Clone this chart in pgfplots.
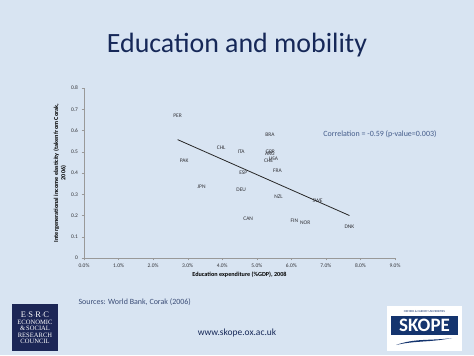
\documentclass[border=0pt]{standalone}
\usepackage{fontspec}
\setmainfont{Carlito}
\newfontfamily\logoserif{Liberation Serif}
\usepackage{pgfplots}
\usepackage{pgfplotstable}
\pgfplotsset{compat=1.18}
\definecolor{bg}{RGB}{216,228,242}
\definecolor{navy}{RGB}{22,40,88}
\definecolor{corr}{RGB}{68,92,138}
\definecolor{src}{RGB}{60,78,120}
\definecolor{lbl}{RGB}{50,50,55}
\definecolor{esrc}{RGB}{28,38,86}
\definecolor{skope}{RGB}{20,52,110}

\pgfplotstableread{
x y label
2.71 0.670 PER
5.38 0.580 BRA
3.97 0.519 CHL
4.55 0.499 ITA
5.39 0.500 GBR
5.38 0.490 ARG
5.48 0.469 USA
5.34 0.458 CHE
2.90 0.460 PAK
5.60 0.410 FRA
4.61 0.400 ESP
3.40 0.337 JPN
4.55 0.319 DEU
5.63 0.287 NZL
6.76 0.268 SWE
4.75 0.187 CAN
6.09 0.177 FIN
6.40 0.168 NOR
7.68 0.146 DNK
}\datatable

\begin{document}
\begin{tikzpicture}[x=1bp,y=1bp]
\fill[bg] (0,0) rectangle (474,355);
\useasboundingbox (0,0) rectangle (474,355);
\node[navy, font=\fontsize{28}{32}\selectfont] at (237,310) {Education and mobility};

\begin{axis}[
  at={(84bp,97bp)}, anchor=south west,
  scale only axis, width=311bp, height=170bp,
  xmin=0, xmax=9, ymin=0, ymax=0.8,
  axis x line=bottom, axis y line=left,
  axis line style={-, draw=gray!80},
  tick style={draw=gray!80},
  major tick length=2.5pt,
  tick align=outside,
  xtick={0,1,2,3,4,5,6,7,8,9},
  xticklabel={\pgfmathprintnumber[fixed,fixed zerofill,precision=1]{\tick}\%},
  ytick={0,0.1,0.2,0.3,0.4,0.5,0.6,0.7,0.8},
  yticklabel style={/pgf/number format/fixed, /pgf/number format/precision=1},
  /pgf/number format/assume math mode=true,
  tick label style={font=\fontsize{5.5}{6}\selectfont, text=lbl},
  xlabel={Education expenditure (\%GDP), 2008},
  ylabel={Intergenerational income elasticity (taken from Corak,\\2006)},
  xlabel style={font=\bfseries\fontsize{6.2}{7}\selectfont, text=black, yshift=3pt},
  ylabel style={font=\bfseries\fontsize{6.2}{7.2}\selectfont, text=black, align=center, yshift=-2pt},
  clip=false,
]
\addplot[draw=gray!30!black, line width=0.8pt] coordinates {(2.71,0.557) (7.68,0.200)};
\addplot[only marks, mark=none, nodes near coords, point meta=explicit symbolic,
  every node near coord/.append style={anchor=center, font=\fontsize{5.5}{6}\selectfont, text=lbl, inner sep=0pt}]
  table[x=x, y=y, meta=label] {\datatable};
\end{axis}

\node[corr, font=\fontsize{8}{9}\selectfont] at (380,221) {Correlation = -0.59 (p-value=0.003)};
\node[anchor=west, src, font=\fontsize{8}{9}\selectfont] at (75,53) {Sources: World Bank, Corak (2006)};
\node[navy, font=\fontsize{9.5}{11}\selectfont] at (237,22) {www.skope.ox.ac.uk};

% ESRC logo
\fill[esrc] (12,4) rectangle (58,51);
\node[white, align=center, inner sep=0pt, font=\logoserif\fontsize{6.6}{6.6}\selectfont] at (35,27)
  {{\fontsize{8.5}{9}\selectfont E$\cdot$S$\cdot$R$\cdot$C}\\ECONOMIC\\\&\,SOCIAL\\RESEARCH\\COUNCIL};

% SKOPE logo
\fill[white] (387,4) rectangle (462,49);
\node[skope, font=\fontsize{3}{3}\selectfont] at (424.5,44) {OXFORD \& CARDIFF UNIVERSITIES};
\fill[skope] (391,20) rectangle (458,39);
\node[white, font=\bfseries\fontsize{19}{20}\selectfont, inner sep=0pt] at (424.5,29.5) {SKOPE};
\fill[skope] (396,10) .. controls (415,17) and (430,14) .. (452,17)
   .. controls (430,12.5) and (415,14.5) .. (396,10) -- cycle;
\end{tikzpicture}
\end{document}
